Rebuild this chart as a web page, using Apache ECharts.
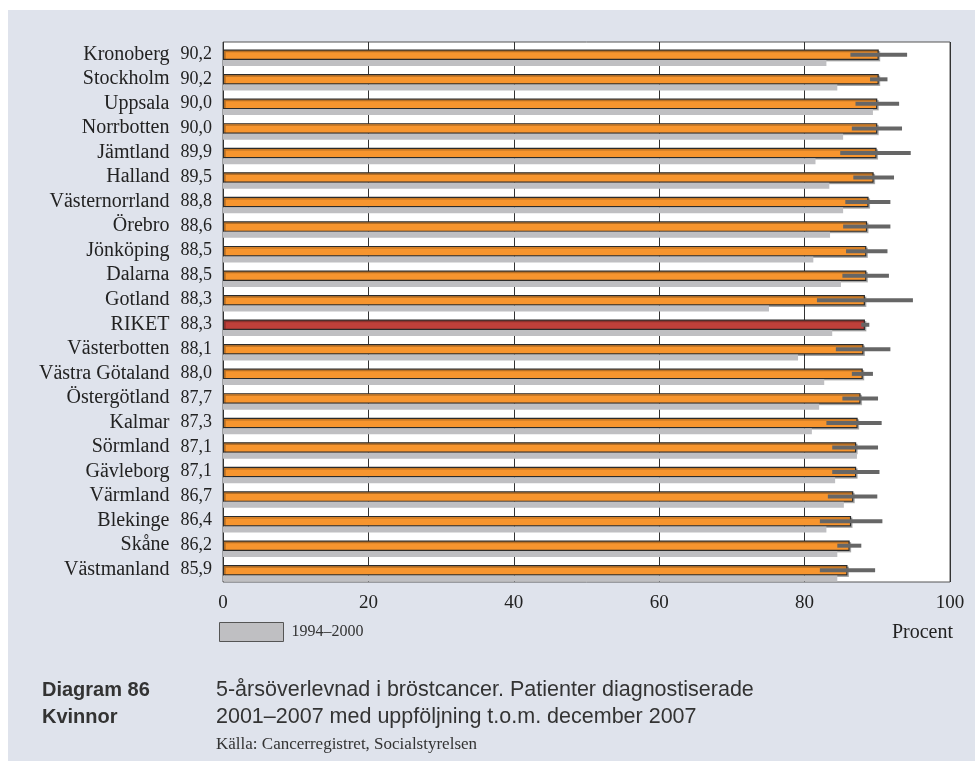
<!DOCTYPE html>
<html>
<head>
<meta charset="utf-8">
<script src="https://cdn.jsdelivr.net/npm/echarts@6/dist/echarts.min.js"></script>
<style>
  html, body { margin: 0; padding: 0; background: #fff; }
  #chartWrap { width: 975px; height: 761px; }
</style>
</head>
<body>
<div id="chartWrap"></div>
<script>
// 地区（从上到下）
var regions = ['Kronoberg', 'Stockholm', 'Uppsala', 'Norrbotten', 'Jämtland', 'Halland', 'Västernorrland', 'Örebro',
  'Jönköping', 'Dalarna', 'Gotland', 'RIKET', 'Västerbotten', 'Västra Götaland', 'Östergötland', 'Kalmar',
  'Sörmland', 'Gävleborg', 'Värmland', 'Blekinge', 'Skåne', 'Västmanland'];
// 2001–2007
var surv0107 = [90.2, 90.2, 90.0, 90.0, 89.9, 89.5, 88.8, 88.6, 88.5, 88.5, 88.3, 88.3, 88.1, 88.0, 87.7, 87.3,
  87.1, 87.1, 86.7, 86.4, 86.2, 85.9];
// 1994–2000
var surv9400 = [83.0, 84.5, 89.4, 85.3, 81.5, 83.4, 85.3, 83.5, 81.2, 85.0, 75.1, 83.8, 79.1, 82.7, 82.0, 81.0,
  87.2, 84.2, 85.4, 83.0, 84.5, 84.5];
// 置信区间
var ciLow = [86.3, 89.0, 87.0, 86.5, 84.9, 86.7, 85.6, 85.3, 85.7, 85.2, 81.7, 87.8, 84.3, 86.5, 85.2, 83.0,
  83.8, 83.8, 83.2, 82.1, 84.5, 82.1];
var ciHigh = [94.1, 91.4, 93.0, 93.4, 94.6, 92.3, 91.8, 91.8, 91.4, 91.6, 94.9, 88.9, 91.8, 89.4, 90.1, 90.6,
  90.1, 90.3, 90.0, 90.7, 87.8, 89.7];
var xTicks = [0, 20, 40, 60, 80, 100];

var SP_W = 7, OR_W = 10.5, GR_W = 6, ERR_H = 4;
// 误差线相对类目中心的偏移
var ERR_OFFSET = -(SP_W + OR_W + GR_W) / 2 + SP_W + OR_W / 2;

function fmt(v) {
  return v.toFixed(1).replace('.', ',');
}

var orangeData = surv0107.map(function(v, i) {
  if (regions[i] == 'RIKET') {
    return { value: v, itemStyle: { color: '#c0403a' } };
  }
  return v;
});
var errData = regions.map(function(r, i) {
  return [i, ciLow[i], ciHigh[i]];
});

var serif = 'Liberation Serif';
var sans = 'Liberation Sans';

var myChart = echarts.init(document.getElementById('chartWrap'));
myChart.setOption({
  backgroundColor: '#fff',
  animation: false,
  grid: {
    left: 223, right: 25, top: 42, bottom: 179,
    show: true, backgroundColor: '#fff', borderColor: '#555', borderWidth: 1
  },
  legend: {
    data: [{ name: '1994–2000', itemStyle: { borderColor: '#555', borderWidth: 1 } }],
    left: 219, top: 622, padding: 0, itemWidth: 64, itemHeight: 19, icon: 'rect',
    textStyle: { fontFamily: serif, fontSize: 16, color: '#333', padding: [0, 0, 0, 3] }
  },
  xAxis: {
    type: 'value', min: xTicks[0], max: xTicks[xTicks.length - 1], interval: 20,
    axisLine: { show: false }, axisTick: { show: false },
    splitLine: { show: true, lineStyle: { color: '#333', width: 1 } },
    axisLabel: { margin: 12, fontFamily: serif, fontSize: 19, color: '#222' }
  },
  yAxis: {
    type: 'category', inverse: true, data: regions,
    axisLine: { show: false }, axisTick: { show: false },
    axisLabel: {
      margin: 11,
      formatter: function(name, idx) {
        return '{n|' + name + '}{v|' + fmt(surv0107[idx]) + '}';
      },
      rich: {
        n: { fontFamily: serif, fontSize: 20, color: '#222' },
        v: { fontFamily: serif, fontSize: 18, color: '#222', padding: [0, 0, 0, 11] }
      }
    }
  },
  series: [
    { name: 'spacer', type: 'bar', data: [], barWidth: SP_W, barGap: 0, silent: true },
    {
      name: '2001–2007', type: 'bar', data: orangeData, barWidth: OR_W, barGap: 0,
      itemStyle: {
        color: '#f7952e', borderColor: '#2b2b2b', borderWidth: 1.2,
        shadowColor: 'rgba(0,0,0,0.25)', shadowOffsetX: 1.5, shadowOffsetY: 1.5
      }
    },
    {
      name: '1994–2000', type: 'bar', data: surv9400, barWidth: GR_W, barGap: 0,
      itemStyle: { color: '#bfbfc2' }
    },
    {
      name: 'ci', type: 'custom', data: errData, z: 5,
      encode: { x: [1, 2], y: 0 },
      renderItem: function(params, api) {
        var lo = api.coord([api.value(1), api.value(0)]);
        var hi = api.coord([api.value(2), api.value(0)]);
        return {
          type: 'rect',
          shape: { x: lo[0], y: lo[1] + ERR_OFFSET - ERR_H / 2, width: hi[0] - lo[0], height: ERR_H },
          style: { fill: '#666' }
        };
      }
    }
  ],
  graphic: {
    elements: [
      { type: 'rect', z: -100, shape: { x: 8, y: 10, width: 967, height: 751 }, style: { fill: '#dfe3ec' } },
      { type: 'text', x: 953, y: 633, style: { text: 'Procent', align: 'right', verticalAlign: 'middle', font: '20px "' + serif + '"', fill: '#222' } },
      { type: 'text', x: 42, y: 690, style: { text: 'Diagram 86', verticalAlign: 'middle', font: 'bold 20px "' + sans + '"', fill: '#333' } },
      { type: 'text', x: 42, y: 717, style: { text: 'Kvinnor', verticalAlign: 'middle', font: 'bold 20px "' + sans + '"', fill: '#333' } },
      { type: 'text', x: 216, y: 690, style: { text: '5-årsöverlevnad i bröstcancer. Patienter diagnostiserade', verticalAlign: 'middle', font: '21.5px "' + sans + '"', fill: '#333' } },
      { type: 'text', x: 216, y: 717, style: { text: '2001–2007 med uppföljning t.o.m. december 2007', verticalAlign: 'middle', font: '21.5px "' + sans + '"', fill: '#333' } },
      { type: 'text', x: 216, y: 745, style: { text: 'Källa: Cancerregistret, Socialstyrelsen', verticalAlign: 'middle', font: '17px "' + serif + '"', fill: '#333' } }
    ]
  }
});
</script>
</body>
</html>
